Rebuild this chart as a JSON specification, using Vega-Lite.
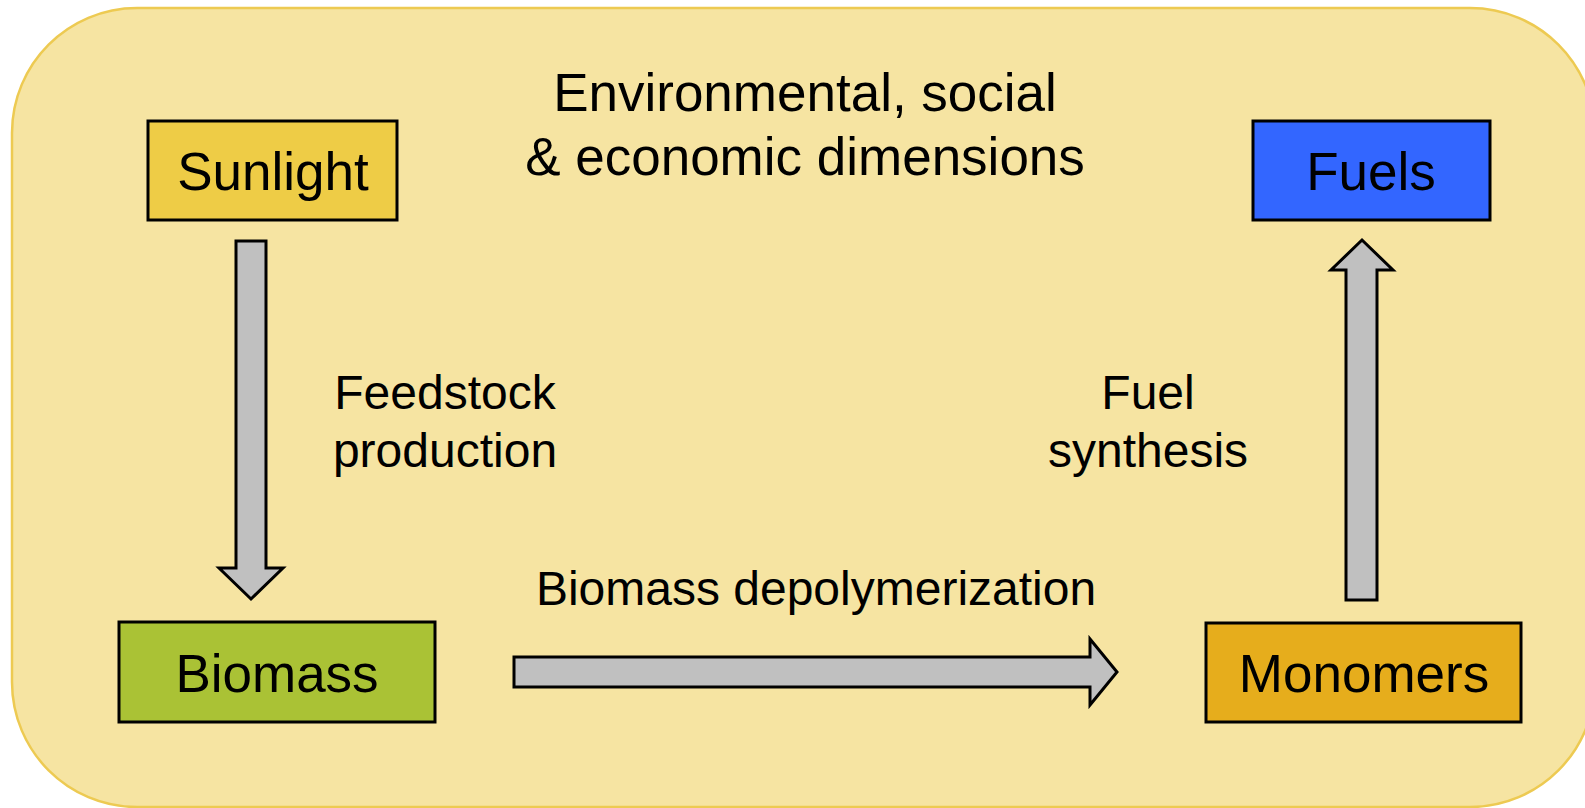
{
  "$schema": "https://vega.github.io/schema/vega-lite/v6.json",
  "width": 1585,
  "height": 808,
  "padding": 0,
  "autosize": {"type": "none"},
  "background": "white",
  "config": {"view": {"stroke": null}, "font": "Liberation Sans"},
  "datasets": {
    "panel": [{"x": 12, "x2": 1595, "y": 8, "y2": 807}],
    "boxes": [
      {"name": "Sunlight", "x": 148, "x2": 397, "y": 121, "y2": 220},
      {"name": "Fuels", "x": 1253, "x2": 1490, "y": 121, "y2": 220},
      {"name": "Biomass", "x": 119, "x2": 435, "y": 622, "y2": 722},
      {"name": "Monomers", "x": 1206, "x2": 1521, "y": 623, "y2": 722}
    ],
    "arrows": [
      {"arrow": "down", "k": 1, "x": 236, "y": 241},
      {"arrow": "down", "k": 2, "x": 266, "y": 241},
      {"arrow": "down", "k": 3, "x": 266, "y": 568},
      {"arrow": "down", "k": 4, "x": 283, "y": 568},
      {"arrow": "down", "k": 5, "x": 251, "y": 599},
      {"arrow": "down", "k": 6, "x": 219, "y": 568},
      {"arrow": "down", "k": 7, "x": 236, "y": 568},
      {"arrow": "right", "k": 1, "x": 514, "y": 657},
      {"arrow": "right", "k": 2, "x": 1090, "y": 657},
      {"arrow": "right", "k": 3, "x": 1090, "y": 639},
      {"arrow": "right", "k": 4, "x": 1117, "y": 672},
      {"arrow": "right", "k": 5, "x": 1090, "y": 705},
      {"arrow": "right", "k": 6, "x": 1090, "y": 687},
      {"arrow": "right", "k": 7, "x": 514, "y": 687},
      {"arrow": "up", "k": 1, "x": 1346, "y": 600},
      {"arrow": "up", "k": 2, "x": 1346, "y": 270},
      {"arrow": "up", "k": 3, "x": 1331, "y": 270},
      {"arrow": "up", "k": 4, "x": 1362, "y": 240},
      {"arrow": "up", "k": 5, "x": 1393, "y": 270},
      {"arrow": "up", "k": 6, "x": 1377, "y": 270},
      {"arrow": "up", "k": 7, "x": 1377, "y": 600}
    ],
    "labels": [
      {"role": "title", "text": "Environmental, social", "x": 805, "y": 95},
      {"role": "title", "text": "& economic dimensions", "x": 805, "y": 159},
      {"role": "box", "text": "Sunlight", "x": 273, "y": 174},
      {"role": "box", "text": "Fuels", "x": 1371, "y": 174},
      {"role": "box", "text": "Biomass", "x": 277, "y": 676},
      {"role": "box", "text": "Monomers", "x": 1364, "y": 676},
      {"role": "step", "text": "Feedstock", "x": 445, "y": 395},
      {"role": "step", "text": "production", "x": 445, "y": 453},
      {"role": "step", "text": "Fuel", "x": 1148, "y": 395},
      {"role": "step", "text": "synthesis", "x": 1148, "y": 453},
      {"role": "step", "text": "Biomass depolymerization", "x": 816, "y": 591}
    ]
  },
  "encoding": {
    "x": {"field": "x", "type": "quantitative", "scale": {"domain": [0, 1585], "nice": false, "zero": false}, "axis": null},
    "y": {"field": "y", "type": "quantitative", "scale": {"domain": [0, 808], "nice": false, "zero": false, "reverse": true}, "axis": null}
  },
  "layer": [
    {
      "data": {"name": "panel"},
      "mark": {"type": "rect", "cornerRadius": 125, "fill": "#f6e4a2", "stroke": "#edca52", "strokeWidth": 2.5},
      "encoding": {"x2": {"field": "x2"}, "y2": {"field": "y2"}}
    },
    {
      "data": {"name": "boxes"},
      "mark": {"type": "rect", "stroke": "#000000", "strokeWidth": 3},
      "encoding": {
        "x2": {"field": "x2"},
        "y2": {"field": "y2"},
        "fill": {
          "field": "name", "type": "nominal",
          "scale": {"domain": ["Sunlight", "Fuels", "Biomass", "Monomers"], "range": ["#eecc46", "#3366ff", "#aac235", "#e6ad1c"]},
          "legend": null
        }
      }
    },
    {
      "data": {"name": "arrows"},
      "mark": {"type": "line", "interpolate": "linear-closed", "fill": "#c0c0c0", "stroke": "#000000", "strokeWidth": 3, "strokeJoin": "miter"},
      "encoding": {
        "detail": {"field": "arrow", "type": "nominal"},
        "order": {"field": "k", "type": "quantitative"}
      }
    },
    {
      "data": {"name": "labels"},
      "transform": [{"filter": "datum.role === 'title'"}],
      "mark": {"type": "text", "fontSize": 53, "baseline": "middle", "align": "center", "color": "#000000"},
      "encoding": {"text": {"field": "text"}}
    },
    {
      "data": {"name": "labels"},
      "transform": [{"filter": "datum.role === 'box'"}],
      "mark": {"type": "text", "fontSize": 53, "baseline": "middle", "align": "center", "color": "#000000"},
      "encoding": {"text": {"field": "text"}}
    },
    {
      "data": {"name": "labels"},
      "transform": [{"filter": "datum.role === 'step'"}],
      "mark": {"type": "text", "fontSize": 48, "baseline": "middle", "align": "center", "color": "#000000"},
      "encoding": {"text": {"field": "text"}}
    }
  ]
}
